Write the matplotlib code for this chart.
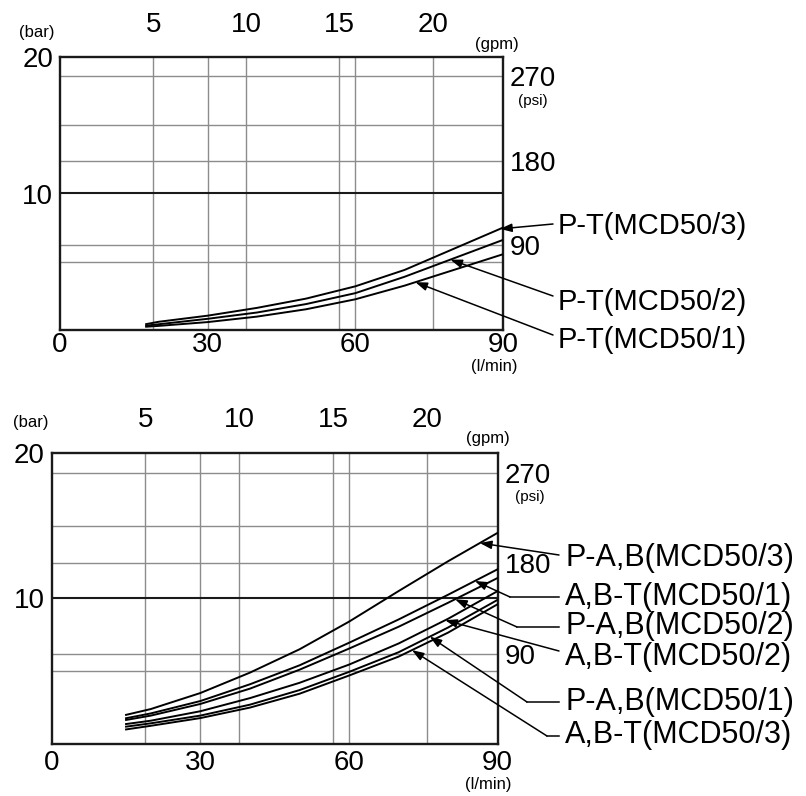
import numpy as np
import matplotlib
matplotlib.use('Agg')
import matplotlib.pyplot as plt
from matplotlib.lines import Line2D

plt.rcParams['font.family'] = ['Liberation Sans', 'DejaVu Sans']

# ---------------- data ----------------
LPM_PER_GPM = 3.785
PSI_PER_BAR = 14.5038

flow_ticks_lpm = [0, 30, 60, 90]
flow_ticks_gpm = [5, 10, 15, 20]
bar_ticks = [10, 20]
psi_ticks = [90, 180, 270]
bar_grid = [5, 10, 15]

# upper chart : P-T pressure drop
pt_flow = [17.5, 20, 30, 40, 50, 60, 70, 80, 90]
pt_mcd3 = [0.43, 0.60, 1.05, 1.62, 2.30, 3.20, 4.40, 5.95, 7.50]
pt_mcd2 = [0.32, 0.42, 0.82, 1.28, 1.90, 2.70, 3.90, 5.25, 6.60]
pt_mcd1 = [0.24, 0.30, 0.58, 0.98, 1.52, 2.25, 3.25, 4.40, 5.55]
pt_labels = ['P-T(MCD50/3)', 'P-T(MCD50/2)', 'P-T(MCD50/1)']
pt_arrow_flow = [89.4, 79.3, 72.2]

# lower chart : P-A,B and A,B-T pressure drop
ab_flow = [15, 20, 30, 40, 50, 60, 70, 80, 90]
pab_mcd3 = [2.00, 2.40, 3.50, 4.90, 6.50, 8.40, 10.50, 12.55, 14.50]
abt_mcd1 = [1.77, 2.10, 2.95, 4.10, 5.40, 6.95, 8.55, 10.25, 12.00]
pab_mcd2 = [1.65, 1.95, 2.75, 3.80, 5.10, 6.55, 8.05, 9.70, 11.40]
abt_mcd2 = [1.37, 1.60, 2.25, 3.15, 4.20, 5.45, 6.90, 8.60, 10.50]
pab_mcd1 = [1.19, 1.42, 1.95, 2.70, 3.70, 4.95, 6.30, 8.00, 9.90]
abt_mcd3 = [1.00, 1.25, 1.78, 2.50, 3.45, 4.70, 6.00, 7.65, 9.60]
ab_labels = ['P-A,B(MCD50/3)', 'A,B-T(MCD50/1)', 'P-A,B(MCD50/2)',
             'A,B-T(MCD50/2)', 'P-A,B(MCD50/1)', 'A,B-T(MCD50/3)']
ab_arrow_flow = [86.4, 85.4, 81.4, 79.4, 76.3, 72.7]

# ---------------- figure ----------------
W, H = 806, 796
fig = plt.figure(figsize=(W / 100, H / 100), dpi=100)


def ff(x, y):
    """image pixel -> figure fraction"""
    return (x / W, 1 - y / H)


GRID_C = '#8c8c8c'
DARK = '#1a1a1a'


def setup_axes(rect, bottom_pad):
    ax = fig.add_axes(rect)
    ax.set_xlim(0, 90)
    ax.set_ylim(0, 20)
    for s in ax.spines.values():
        s.set_linewidth(1.7)
        s.set_color(DARK)
    ax.set_xticks(flow_ticks_lpm)
    ax.set_yticks(bar_ticks)
    ax.tick_params(axis='x', length=0, pad=bottom_pad, labelsize=20)
    ax.tick_params(axis='y', length=0, pad=5, labelsize=20)
    # grid lines
    for v in flow_ticks_lpm[1:-1]:
        ax.axvline(v, color=GRID_C, lw=1.0, zorder=1)
    for g in flow_ticks_gpm:
        ax.axvline(g * LPM_PER_GPM, color=GRID_C, lw=1.0, zorder=1)
    for b in bar_grid:
        if b == 10:
            ax.axhline(b, color=DARK, lw=1.5, zorder=1)
        else:
            ax.axhline(b, color=GRID_C, lw=1.0, zorder=1)
    for p in psi_ticks:
        ax.axhline(p / PSI_PER_BAR, color=GRID_C, lw=1.0, zorder=1)
    # gpm axis on top
    sx = ax.secondary_xaxis('top', functions=(lambda q: q / LPM_PER_GPM,
                                              lambda g: g * LPM_PER_GPM))
    sx.set_xticks(flow_ticks_gpm)
    sx.tick_params(length=0, pad=14, labelsize=20)
    sx.spines['top'].set_visible(False)
    # psi axis on right
    sy = ax.secondary_yaxis('right', functions=(lambda b: b * PSI_PER_BAR,
                                                lambda p: p / PSI_PER_BAR))
    sy.set_yticks(psi_ticks)
    sy.tick_params(length=0, pad=5, labelsize=20)
    sy.spines['right'].set_visible(False)
    return ax


ARROW = dict(arrowstyle='-|>,head_length=0.7,head_width=0.25', color='black',
             lw=1.1, shrinkA=0, shrinkB=0, mutation_scale=10)


def leader(ax, flow, vals, xf, start, elbow=None):
    target = (xf, float(np.interp(xf, flow, vals)))
    tail = elbow if elbow is not None else start
    ax.annotate('', xy=target, xycoords='data', xytext=ff(*tail),
                textcoords='figure fraction', arrowprops=ARROW,
                annotation_clip=False)
    if elbow is not None:
        (x0, y0), (x1, y1) = ff(*start), ff(*elbow)
        fig.add_artist(Line2D([x0, x1], [y0, y1], transform=fig.transFigure,
                              color='black', lw=1.1))


# ---- upper chart ----
ax1 = setup_axes([60 / W, 1 - 330 / H, 443 / W, 273 / H], bottom_pad=1.5)
pt_series = [pt_mcd3, pt_mcd2, pt_mcd1]
for vals in pt_series:
    ax1.plot(pt_flow, vals, color='black', lw=1.4, zorder=3,
             solid_joinstyle='round')

pt_text_y = [226, 302, 340]
pt_start = [(553, 224), (553, 296), (553, 335)]
for lab, vals, xf, ty, st in zip(pt_labels, pt_series, pt_arrow_flow,
                                  pt_text_y, pt_start):
    fig.text(*ff(558, ty), lab, ha='left', va='center', fontsize=21)
    leader(ax1, pt_flow, vals, xf, st)

fig.text(*ff(37, 32), '(bar)', ha='center', va='center', fontsize=12)
fig.text(*ff(497, 45), '(gpm)', ha='center', va='center', fontsize=12)
fig.text(*ff(533, 101), '(psi)', ha='center', va='center', fontsize=11)
fig.text(*ff(494, 367), '(l/min)', ha='center', va='center', fontsize=12)

# ---- lower chart ----
ax2 = setup_axes([51.7 / W, 1 - 744 / H, 446 / W, 291.3 / H], bottom_pad=4)
ab_series = [pab_mcd3, abt_mcd1, pab_mcd2, abt_mcd2, pab_mcd1, abt_mcd3]
for vals in ab_series:
    ax2.plot(ab_flow, vals, color='black', lw=1.4, zorder=3,
             solid_joinstyle='round')

ab_text_y = [558, 597, 626, 657, 702, 735]
ab_start = [(559, 555), (559, 597), (559, 627), (559, 651), (559, 702), (559, 736)]
ab_elbow = [None, (510, 597), (517, 627), None, (527, 702), (547, 736)]
for lab, vals, xf, ty, st, el in zip(ab_labels, ab_series, ab_arrow_flow,
                                      ab_text_y, ab_start, ab_elbow):
    fig.text(*ff(565, ty), lab, ha='left', va='center', fontsize=22)
    leader(ax2, ab_flow, vals, xf, st, el)

fig.text(*ff(31, 423), '(bar)', ha='center', va='center', fontsize=12)
fig.text(*ff(488, 439), '(gpm)', ha='center', va='center', fontsize=12)
fig.text(*ff(530, 497), '(psi)', ha='center', va='center', fontsize=11)
fig.text(*ff(488, 784), '(l/min)', ha='center', va='center', fontsize=12)

fig.savefig('out.png', dpi=100, facecolor='white')
